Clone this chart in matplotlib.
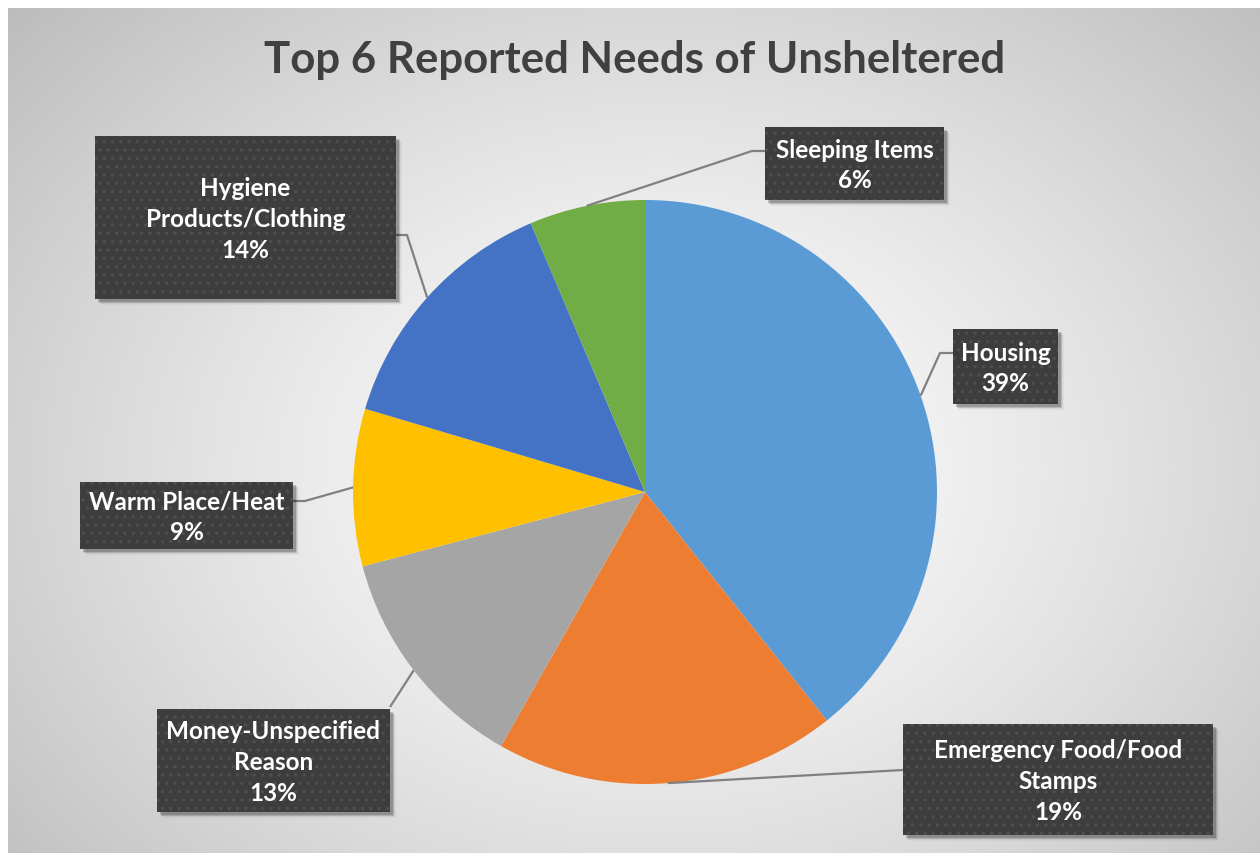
import numpy as np
import matplotlib
matplotlib.use("Agg")
import matplotlib.pyplot as plt
from matplotlib.patches import Rectangle

# ---- data ----
categories = ["Housing", "Emergency Food/Food\nStamps", "Money-Unspecified\nReason",
              "Warm Place/Heat", "Hygiene\nProducts/Clothing", "Sleeping Items"]
values = [39.3, 18.9, 12.7, 8.7, 14.0, 6.4]
colors = ["#5B9BD5", "#ED7D31", "#A5A5A5", "#FFC000", "#4472C4", "#70AD47"]
title = "Top 6 Reported Needs of Unsheltered"

# ---- layout (pixels, image coords) ----
W, H = 1260, 854
cx, cy, R = 645, 493, 292
# boxes: (left, top, right, bottom)
boxes = [(953, 330, 1058, 405), (903, 725, 1213, 836), (157, 710, 390, 813),
         (80, 483, 293, 550), (95, 137, 396, 300), (765, 128, 944, 201)]
# leader path points after the anchor
leaders = [[(940, 354), (953, 354)], [(903, 771)], [(390, 708)],
           [(305, 502), (293, 502)], [(407, 236), (396, 236)], [(752, 152), (765, 152)]]

fig = plt.figure(figsize=(W / 100, H / 100), dpi=100)
fig.patch.set_facecolor("white")

# background gradient
bg = fig.add_axes([0, 0, 1, 1], zorder=0)
yy, xx = np.mgrid[0:H, 0:W]
d = np.sqrt(((xx - 660) / 900.0) ** 2 + ((yy - 470) / 700.0) ** 2)
g = np.clip(1.0 - 0.27 * d ** 1.3, 0, 1)
img = np.dstack([g, g, g])
img[:9, :, :] = 1.0
img[:, :8, :] = 1.0
bg.imshow(img, extent=[0, W, H, 0], aspect="auto", interpolation="bilinear")
bg.set_xlim(0, W)
bg.set_ylim(H, 0)
bg.axis("off")

# pie
pax = fig.add_axes([(cx - R) / W, (H - cy - R) / H, 2 * R / W, 2 * R / H], zorder=2)
wedges, _ = pax.pie(values, colors=colors, startangle=90, counterclock=False,
                    radius=1, wedgeprops=dict(linewidth=0))
pax.set_xlim(-1, 1)
pax.set_ylim(-1, 1)
pax.set_aspect("equal")
pax.axis("off")
pax.patch.set_alpha(0)

# overlay for labels
ov = fig.add_axes([0, 0, 1, 1], zorder=3)
ov.set_xlim(0, W)
ov.set_ylim(H, 0)
ov.axis("off")
ov.patch.set_alpha(0)

plt.rcParams["hatch.linewidth"] = 1.2
total = float(sum(values))
inv = ov.transData.inverted()
cum = 0.0
for i, v in enumerate(values):
    mid = cum + v / 2.0
    cum += v
    ang = np.deg2rad(90 - 360 * mid / total)
    p = pax.transData.transform((np.cos(ang), np.sin(ang)))
    ax0, ay0 = inv.transform(p)
    pts = [(ax0, ay0)] + leaders[i]
    ov.plot([q[0] for q in pts], [q[1] for q in pts], color="#808080", lw=1.6,
            solid_capstyle="butt", zorder=4)
    l, t, r, b = boxes[i]
    # shadow
    for k, a in zip(range(1, 7), [0.10, 0.09, 0.08, 0.06, 0.04, 0.03]):
        ov.add_patch(Rectangle((l + 2 + k * 0.6, t + 2 + k * 0.6), r - l, b - t,
                               facecolor="black", edgecolor="none", alpha=a, zorder=5))
    ov.add_patch(Rectangle((l, t), r - l, b - t, facecolor="#3d3d3d",
                           edgecolor="none", zorder=6))
    ov.add_patch(Rectangle((l, t), r - l, b - t, facecolor="none", hatch="..",
                           edgecolor="#4e4e4e", linewidth=0, zorder=7))
    pct = f"{round(100 * v / total):.0f}%"
    ov.text((l + r) / 2, (t + b) / 2 + 1, categories[i] + "\n" + pct, ha="center",
            va="center", color="white", fontsize=17.5, fontweight="bold",
            family="Lato", linespacing=1.42, zorder=8)

ov.text(635, 60, title, ha="center", va="center", color="#404040",
        fontsize=31.5, fontweight="bold", family="Lato", zorder=8)

fig.savefig("out.png", dpi=100)
